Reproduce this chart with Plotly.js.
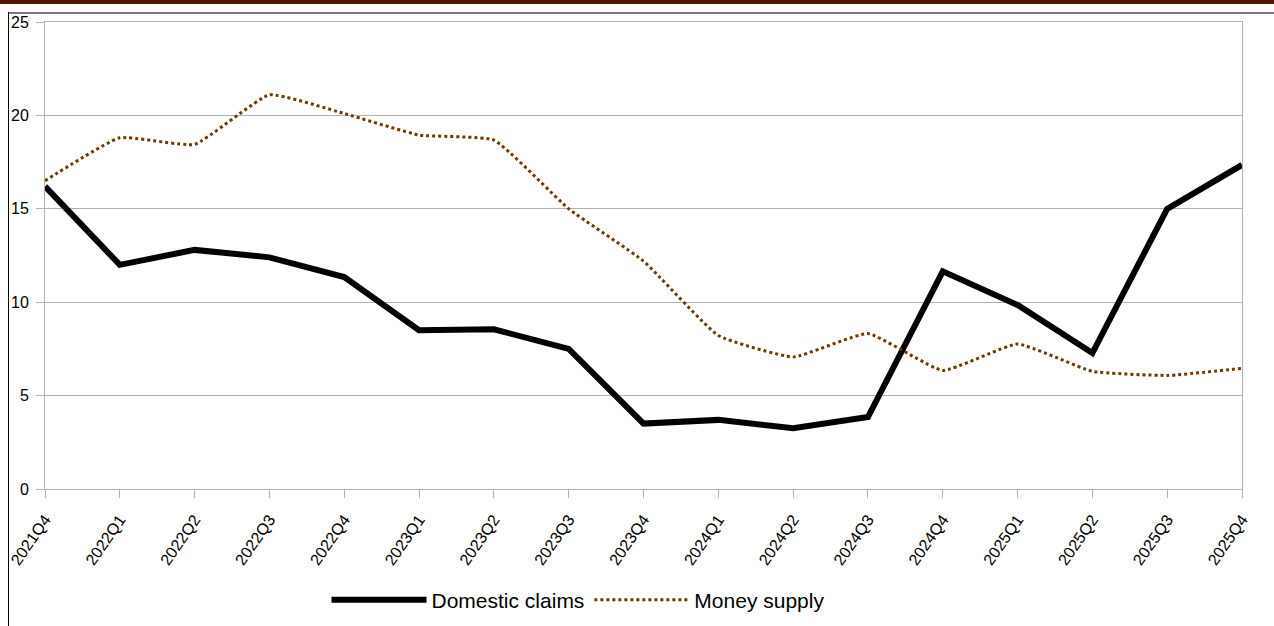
<!DOCTYPE html>
<html>
<head>
<meta charset="utf-8">
<script src="https://cdn.plot.ly/plotly-3.0.1.min.js"></script>
<style>
html,body{margin:0;padding:0;background:#fff;overflow:hidden;}
#wrap{position:relative;width:1274px;height:626px;}
#chart{position:absolute;left:0;top:0;width:1274px;height:626px;}
#topbar{position:absolute;left:0;top:0;width:1274px;height:4px;background:#4a1a00;z-index:2;}
#hline{position:absolute;left:8px;top:12px;width:1266px;height:2px;background:#7a7a7a;z-index:2;}
#vline{position:absolute;left:8px;top:12px;width:1px;height:614px;background:#000;z-index:2;}
</style>
</head>
<body>
<div id="wrap">
<div id="chart"></div>
<div id="topbar"></div>
<div id="hline"></div>
<div id="vline"></div>
</div>
<script>
const quarters = ["2021Q4","2022Q1","2022Q2","2022Q3","2022Q4","2023Q1","2023Q2","2023Q3","2023Q4","2024Q1","2024Q2","2024Q3","2024Q4","2025Q1","2025Q2","2025Q3","2025Q4"];
const domesticClaims = [16.2,12.0,12.8,12.4,11.35,8.5,8.55,7.5,3.5,3.7,3.25,3.85,11.65,9.85,7.28,15.0,17.35];
const moneySupply = [16.5,18.8,18.45,21.1,20.1,18.95,18.68,15.0,12.2,8.22,7.07,8.32,6.35,7.76,6.3,6.08,6.46];
const yTicks = [0,5,10,15,20,25];

const traces = [
  {x: quarters, y: domesticClaims, name: "Domestic claims", type: "scatter", mode: "lines",
   line: {color: "#000000", width: 6}},
  {x: quarters, y: moneySupply, name: "Money supply", type: "scatter", mode: "lines",
   line: {color: "#6b3a00", width: 3, dash: "3px,3px", shape: "spline", smoothing: 0.4}}
];

const layout = {
  width: 1274, height: 626,
  margin: {l: 45, r: 32, t: 22, b: 137},
  paper_bgcolor: "#ffffff", plot_bgcolor: "#ffffff",
  font: {family: "Liberation Sans, Arial, sans-serif", size: 16, color: "#000"},
  showlegend: true,
  legend: {orientation: "h", xref: "container", yref: "container",
           x: 0.4537, xanchor: "center", y: 0.0415, yanchor: "middle",
           font: {size: 21, color: "#000"}, itemwidth: 95, bgcolor: "rgba(0,0,0,0)"},
  xaxis: {type: "category", range: [0, quarters.length - 1], tickangle: -55, automargin: false,
          showgrid: false, showline: true, linecolor: "#b3b3b3", linewidth: 1, mirror: true,
          ticks: "outside", ticklen: 8, tickcolor: "#b3b3b3", tickfont: {size: 16},
          ticklabelstandoff: 6, zeroline: false, fixedrange: true},
  yaxis: {range: [0, 25], tickvals: yTicks, ticktext: yTicks.map(String), automargin: false,
          showgrid: true, gridcolor: "#b3b3b3", gridwidth: 1, ticklabelstandoff: 4,
          showline: true, linecolor: "#b3b3b3", linewidth: 1, mirror: true,
          ticks: "outside", ticklen: 8, tickcolor: "#b3b3b3", tickfont: {size: 16},
          zeroline: false, fixedrange: true}
};

Plotly.newPlot("chart", traces, layout, {staticPlot: true, displayModeBar: false});
</script>
</body>
</html>
